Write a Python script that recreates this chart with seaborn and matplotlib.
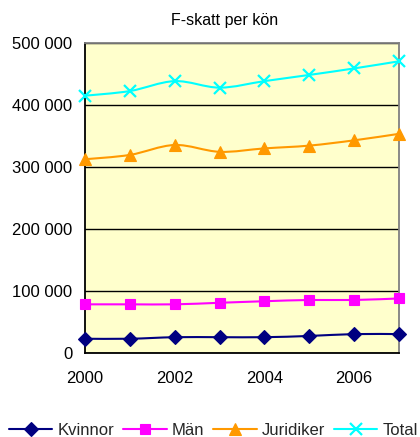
import numpy as np
import pandas as pd
import matplotlib
matplotlib.use("Agg")
import matplotlib.pyplot as plt
from matplotlib.path import Path
from matplotlib.patches import PathPatch
from matplotlib.ticker import FuncFormatter, MultipleLocator
import seaborn as sns

# F-skatt per year, by group
years = [2000, 2001, 2002, 2003, 2004, 2005, 2006, 2007]
kvinnor = [23500, 23500, 26000, 26000, 26000, 28000, 31000, 31000]
man = [79000, 79000, 79000, 81500, 84000, 86000, 86000, 88500]
juridiker = [313000, 320000, 336000, 325000, 330500, 335000, 343500, 354000]
total = [415500, 423000, 439000, 428500, 439000, 449000, 459500, 471000]

series_names = ["Kvinnor", "Män", "Juridiker", "Total"]
series_values = [kvinnor, man, juridiker, total]
series_colors = ["#000080", "#FF00FF", "#FF9900", "#00FFFF"]
series_markers = ["D", "s", "^", "x"]
marker_sizes = [7, 7, 8.5, 8]

title_text = "F-skatt per kön"
y_ticks = [0, 100000, 200000, 300000, 400000, 500000]
x_ticks = [2000, 2002, 2004, 2006]

sns.set_theme(style="white")
plt.rcParams["font.family"] = ["Liberation Sans", "DejaVu Sans"]

fig = plt.figure(figsize=(4.2, 4.37), dpi=100)
ax = fig.add_axes([0.2024, 0.1915, 0.7476, 0.7094])
ax.set_facecolor("#FFFFCC")


def smooth_path(xs, ys):
    """Cubic Bezier path through the points (Catmull-Rom tangents)."""
    pts = np.column_stack([xs, ys]).astype(float)
    n = len(pts)
    verts = [pts[0]]
    codes = [Path.MOVETO]
    for i in range(n - 1):
        p_prev = pts[i - 1] if i > 0 else pts[i]
        p_next2 = pts[i + 2] if i + 2 < n else pts[i + 1]
        c1 = pts[i] + (pts[i + 1] - p_prev) / 6.0
        c2 = pts[i + 1] - (p_next2 - pts[i]) / 6.0
        verts += [c1, c2, pts[i + 1]]
        codes += [Path.CURVE4] * 3
    return Path(verts, codes)


for name, vals, col, mk, ms in zip(series_names, series_values, series_colors,
                                   series_markers, marker_sizes):
    df = pd.DataFrame({"year": years, "value": vals})
    sns.lineplot(data=df, x="year", y="value", ax=ax, label=name, color=col,
                 marker=mk, markersize=ms, linewidth=1.5,
                 markeredgecolor=col, markeredgewidth=1.6 if mk == "x" else 0.8,
                 clip_on=False, zorder=4)

handles, labels = ax.get_legend_handles_labels()
leg = fig.legend(handles, labels, loc="center", bbox_to_anchor=(0.508, 0.016),
                 ncol=4, frameon=False, fontsize=12, handlelength=2.6,
                 handletextpad=0.3, columnspacing=0.55, borderaxespad=0)
if ax.get_legend() is not None:
    ax.get_legend().remove()

# Replace straight segments with smoothed curves, keep the markers
for line, vals, col in zip(ax.lines, series_values, series_colors):
    line.set_linestyle("none")
    patch = PathPatch(smooth_path(years, vals), facecolor="none", edgecolor=col,
                      linewidth=1.5, zorder=3, clip_on=False)
    ax.add_patch(patch)

ax.set_xlim(2000, 2007)
ax.set_ylim(0, 500000)
ax.set_xticks(x_ticks)
ax.set_yticks(y_ticks)
ax.yaxis.set_major_formatter(FuncFormatter(lambda v, p: f"{v:,.0f}".replace(",", " ")))
ax.set_xlabel("")
ax.set_ylabel("")
ax.grid(axis="y", color="black", linewidth=1.0)
ax.grid(axis="x", visible=False)
ax.set_axisbelow(True)
ax.tick_params(axis="both", length=0, labelsize=12, colors="black")
ax.tick_params(axis="y", pad=9)
ax.tick_params(axis="x", pad=13)

for side in ["left", "bottom"]:
    ax.spines[side].set_color("black")
    ax.spines[side].set_linewidth(1.3)
for side in ["top", "right"]:
    ax.spines[side].set_color("#808080")
    ax.spines[side].set_linewidth(1.3)

fig.text(225 / 420, 1 - 21 / 437, title_text, ha="center", va="center",
         fontsize=11.5, color="black")

fig.savefig("out.png", dpi=100, facecolor="white")
